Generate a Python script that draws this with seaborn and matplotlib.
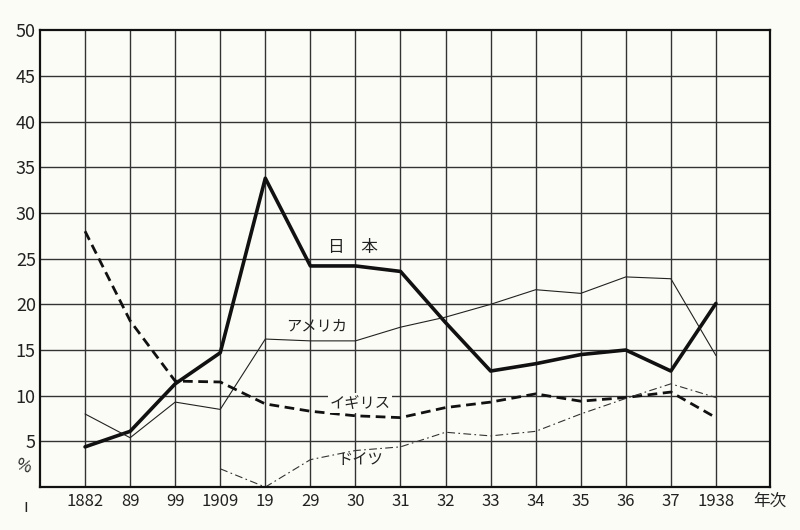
import numpy as np
import pandas as pd
import matplotlib
matplotlib.use("Agg")
import matplotlib.pyplot as plt
import seaborn as sns

years = ["1882", "89", "99", "1909", "19", "29", "30", "31", "32", "33", "34", "35", "36", "37", "1938"]
japan = [4.4, 6.1, 11.3, 14.7, 33.8, 24.2, 24.2, 23.6, 18.0, 12.7, 13.5, 14.5, 15.0, 12.7, 20.1]
america = [8.0, 5.4, 9.3, 8.5, 16.2, 16.0, 16.0, 17.5, 18.6, 20.0, 21.6, 21.2, 23.0, 22.8, 14.4]
britain = [28.0, 18.2, 11.6, 11.5, 9.1, 8.3, 7.8, 7.6, 8.7, 9.3, 10.2, 9.4, 9.8, 10.4, 7.6]
germany = [np.nan, np.nan, np.nan, 2.0, 0.0, 3.0, 4.0, 4.4, 6.0, 5.6, 6.1, 8.0, 9.7, 11.3, 9.8]
y_ticks = [5, 10, 15, 20, 25, 30, 35, 40, 45, 50]

sns.set_style("white")
plt.rcParams['font.family'] = ['Noto Sans CJK JP', 'DejaVu Sans']

pos = np.arange(len(years))
df = pd.DataFrame({"pos": pos, "日本": japan, "アメリカ": america,
                   "イギリス": britain, "ドイツ": germany})

fig = plt.figure(figsize=(8, 5.3), dpi=100)
fig.patch.set_facecolor("#fcfcf7")
ax = fig.add_axes([0.05, 0.081, 0.9125, 0.862])
ax.set_facecolor("#fcfcf7")

sns.lineplot(data=df, x="pos", y="日本", ax=ax, color="#111111", lw=2.6)
sns.lineplot(data=df, x="pos", y="アメリカ", ax=ax, color="#222222", lw=0.8)
sns.lineplot(data=df, x="pos", y="イギリス", ax=ax, color="#111111", lw=2.0)
ax.lines[-1].set_dashes([3.5, 2])
sns.lineplot(data=df, x="pos", y="ドイツ", ax=ax, color="#333333", lw=0.8)
ax.lines[-1].set_dashes([7, 3, 1.5, 3])

ax.set_xlim(-1, 15)
ax.set_ylim(0, 50)
ax.set_xticks(list(pos) + [15.2])
ax.set_xticklabels(years + ["年次"], fontsize=12, color="#222222")
ax.set_yticks(y_ticks)
ax.set_yticklabels([str(v) for v in y_ticks], fontsize=13, color="#222222")
ax.tick_params(axis="x", length=0, pad=4)
ax.tick_params(axis="y", length=0, pad=3)
ax.set_xlabel("")
ax.set_ylabel("")

# grid drawn as plain lines, as on graph paper
for p in list(pos):
    ax.axvline(p, color="#333333", lw=1.0, zorder=0)
for v in y_ticks[:-1]:
    ax.axhline(v, color="#333333", lw=1.0, zorder=0)
for s in ax.spines.values():
    s.set_color("#111111")
    s.set_linewidth(1.6)

ax.text(5.95, 26.2, "日　本", fontsize=12, ha="center", va="center", color="#222222")
ax.text(5.13, 17.7, "アメリカ", fontsize=11, ha="center", va="center", color="#222222")
ax.text(6.1, 9.2, "イギリス", fontsize=11, ha="center", va="center", color="#222222",
        bbox=dict(facecolor="#fcfcf7", edgecolor="none", pad=1))
ax.text(6.1, 3.0, "ドイツ", fontsize=11, ha="center", va="center", color="#222222")
ax.text(-0.01, 0.045, "%", transform=ax.transAxes, fontsize=12, ha="right",
        va="center", rotation=-20, color="#222222")
ax.text(-0.02, -0.045, "ı", transform=ax.transAxes, fontsize=12, ha="center",
        va="center", color="#222222")

fig.savefig("out.png", dpi=100, facecolor=fig.get_facecolor())
